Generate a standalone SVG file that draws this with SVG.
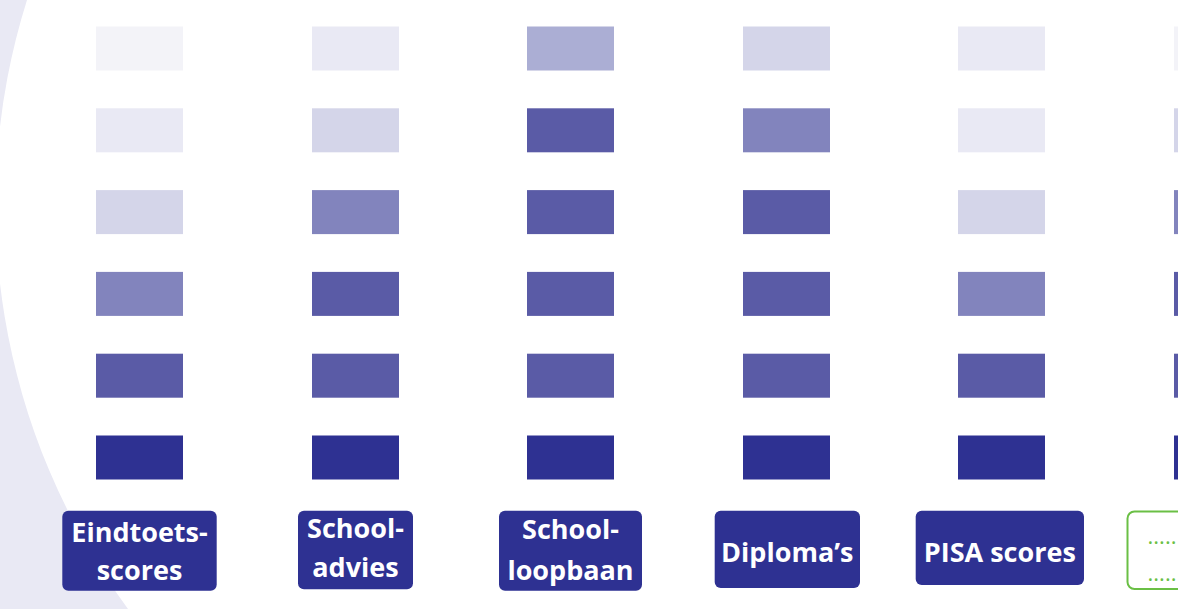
<svg xmlns="http://www.w3.org/2000/svg" width="1178" height="609" viewBox="0 0 1178 609">
<style>
.c1{fill:#f3f3f8}.c2{fill:#e9e9f4}.c3{fill:#d4d5e9}.c3b{fill:#abaed4}.c4{fill:#8284bd}.c5{fill:#5a5ba6}.c6{fill:#2e3192}
.lbl{fill:#2e3192}
.t{font-family:"Open Sans","Noto Sans",sans-serif;font-weight:700;font-size:27px;fill:#ffffff;text-anchor:middle}
.dots{font-family:"Open Sans","Noto Sans",sans-serif;font-size:22px;fill:#6abf45}
</style>
<rect x="0" y="0" width="1178" height="609" fill="#ffffff"/>
<path d="M0,0 L27,0 A682 682 0 0 0 128,609 L0,609 Z" fill="#e9e9f4"/>
<g id="bars">
<g id="col1">
<rect class="c1" x="96" y="26.5" width="87" height="44"/>
<rect class="c2" x="96" y="108.3" width="87" height="44"/>
<rect class="c3" x="96" y="190.1" width="87" height="44"/>
<rect class="c4" x="96" y="271.9" width="87" height="44"/>
<rect class="c5" x="96" y="353.7" width="87" height="44"/>
<rect class="c6" x="96" y="435.5" width="87" height="44"/>
</g>
<g id="col2">
<rect class="c2" x="312" y="26.5" width="87" height="44"/>
<rect class="c3" x="312" y="108.3" width="87" height="44"/>
<rect class="c4" x="312" y="190.1" width="87" height="44"/>
<rect class="c5" x="312" y="271.9" width="87" height="44"/>
<rect class="c5" x="312" y="353.7" width="87" height="44"/>
<rect class="c6" x="312" y="435.5" width="87" height="44"/>
</g>
<g id="col3">
<rect class="c3b" x="527" y="26.5" width="87" height="44"/>
<rect class="c5" x="527" y="108.3" width="87" height="44"/>
<rect class="c5" x="527" y="190.1" width="87" height="44"/>
<rect class="c5" x="527" y="271.9" width="87" height="44"/>
<rect class="c5" x="527" y="353.7" width="87" height="44"/>
<rect class="c6" x="527" y="435.5" width="87" height="44"/>
</g>
<g id="col4">
<rect class="c3" x="743" y="26.5" width="87" height="44"/>
<rect class="c4" x="743" y="108.3" width="87" height="44"/>
<rect class="c5" x="743" y="190.1" width="87" height="44"/>
<rect class="c5" x="743" y="271.9" width="87" height="44"/>
<rect class="c5" x="743" y="353.7" width="87" height="44"/>
<rect class="c6" x="743" y="435.5" width="87" height="44"/>
</g>
<g id="col5">
<rect class="c2" x="958" y="26.5" width="87" height="44"/>
<rect class="c2" x="958" y="108.3" width="87" height="44"/>
<rect class="c3" x="958" y="190.1" width="87" height="44"/>
<rect class="c4" x="958" y="271.9" width="87" height="44"/>
<rect class="c5" x="958" y="353.7" width="87" height="44"/>
<rect class="c6" x="958" y="435.5" width="87" height="44"/>
</g>
<g id="col6">
<rect class="c1" x="1174" y="26.5" width="87" height="44"/>
<rect class="c3" x="1174" y="108.3" width="87" height="44"/>
<rect class="c4" x="1174" y="190.1" width="87" height="44"/>
<rect class="c5" x="1174" y="271.9" width="87" height="44"/>
<rect class="c5" x="1174" y="353.7" width="87" height="44"/>
<rect class="c6" x="1174" y="435.5" width="87" height="44"/>
</g>
</g>
<g id="connectors"/>
<g id="node-eindtoets">
<rect class="lbl" x="62.3" y="510.7" width="154.4" height="80" rx="6"/>
<text class="t" x="139.5" y="541.7">Eindtoets-</text>
<text class="t" x="139.5" y="580">scores</text>
</g>
<g id="node-schooladvies">
<rect class="lbl" x="298" y="510.7" width="115" height="78.5" rx="6"/>
<text class="t" x="355.5" y="538.3">School-</text>
<text class="t" x="355.5" y="577.3">advies</text>
</g>
<g id="node-schoolloopbaan">
<rect class="lbl" x="499" y="510.7" width="143" height="80" rx="6"/>
<text class="t" x="570.5" y="539.3">School-</text>
<text class="t" x="570.5" y="580">loopbaan</text>
</g>
<g id="node-diplomas">
<rect class="lbl" x="714.7" y="510.7" width="145.3" height="77.3" rx="6"/>
<text class="t" x="787.3" y="561.7">Diploma’s</text>
</g>
<g id="node-pisa">
<rect class="lbl" x="915.7" y="510.7" width="168.3" height="74.3" rx="6"/>
<text class="t" x="999.8" y="561.7">PISA scores</text>
</g>
<g id="node-more">
<rect x="1127.5" y="511.5" width="90" height="77.5" rx="7" fill="#ffffff" stroke="#6abf45" stroke-width="2"/>
<text class="dots" x="1147.5" y="544" textLength="29" lengthAdjust="spacing">.....</text>
<text class="dots" x="1147.5" y="581" textLength="29" lengthAdjust="spacing">.....</text>
</g>
</svg>
